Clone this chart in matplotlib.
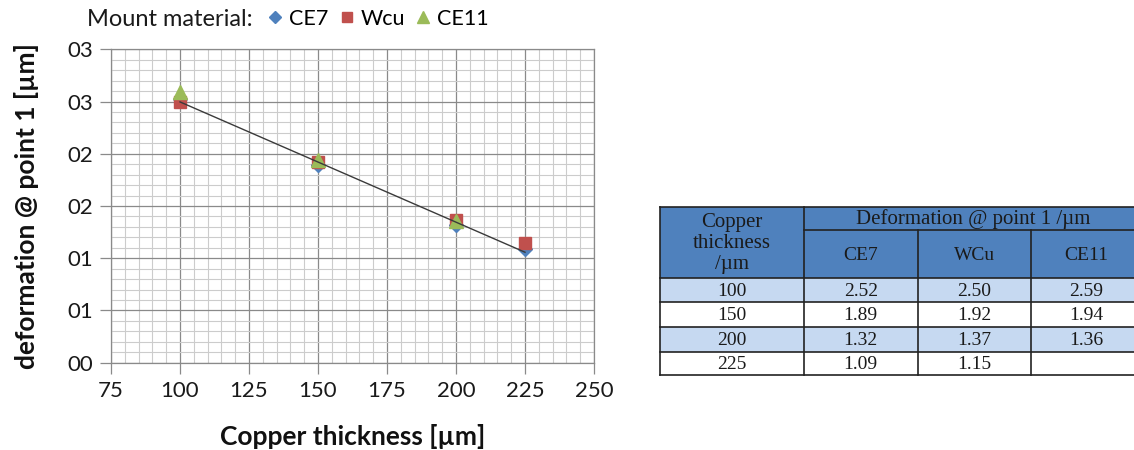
import math
import numpy as np
import matplotlib
matplotlib.use("Agg")
import matplotlib.pyplot as plt
from matplotlib.ticker import MultipleLocator, FuncFormatter
from matplotlib.patches import Rectangle
from matplotlib.lines import Line2D

# ---- data -------------------------------------------------------------
thickness = [100, 150, 200, 225]
ce7 = [2.52, 1.89, 1.32, 1.09]
wcu = [2.50, 1.92, 1.37, 1.15]
ce11 = [2.59, 1.94, 1.36, None]

series_names = ["CE7", "Wcu", "CE11"]
table_cols = ["CE7", "WCu", "CE11"]
x_ticks = [75, 100, 125, 150, 175, 200, 225, 250]

# ---- style ------------------------------------------------------------
SANS = ["Lato", "DejaVu Sans"]
SERIF = ["Liberation Serif", "DejaVu Serif"]
BLUE, RED, GREEN = "#4F81BD", "#C0504D", "#9BBB59"
W, H = 1134, 450

fig = plt.figure(figsize=(W / 100, H / 100), dpi=100)
fig.patch.set_facecolor("white")

ax = fig.add_axes([111 / W, 1 - 362.7 / H, 483 / W, 313.4 / H])
ax.set_xlim(75, 250)
ax.set_ylim(0, 3)
ax.xaxis.set_major_locator(MultipleLocator(25))
ax.xaxis.set_minor_locator(MultipleLocator(5))
ax.yaxis.set_major_locator(MultipleLocator(0.5))
ax.yaxis.set_minor_locator(MultipleLocator(0.1))


def two_digit(v, _pos):
    return f"{int(math.floor(v + 0.5)):02d}"


ax.yaxis.set_major_formatter(FuncFormatter(two_digit))
ax.set_xticks(x_ticks)
ax.set_xticklabels([str(t) for t in x_ticks])

ax.grid(which="minor", color="#cccccc", linewidth=0.8)
ax.grid(which="major", color="#8a8a8a", linewidth=0.9)
ax.set_axisbelow(True)
for s in ax.spines.values():
    s.set_color("#8a8a8a")
    s.set_linewidth(0.9)
ax.tick_params(which="major", direction="out", length=8, width=0.9,
               color="#8a8a8a", labelsize=16, pad=5)
ax.tick_params(which="minor", length=0)
for lbl in ax.get_xticklabels() + ax.get_yticklabels():
    lbl.set_family(SANS)
    lbl.set_color("#1a1a1a")

x_arr = np.array(thickness, dtype=float)
ax.plot(x_arr, ce7, linestyle="none", marker="D", markersize=7,
        color=BLUE, label=series_names[0], zorder=3)
ax.plot(x_arr, wcu, linestyle="none", marker="s", markersize=8.5,
        color=RED, label=series_names[1], zorder=4)
ce11_y = np.array([np.nan if v is None else v for v in ce11], dtype=float)
ax.plot(x_arr, ce11_y, linestyle="none", marker="^", markersize=9.5,
        color=GREEN, label=series_names[2], zorder=5)

# linear trend of the CE7 series over its own x range
k, b = np.polyfit(x_arr, ce7, 1)
xt = np.array([x_arr.min(), x_arr.max()])
ax.plot(xt, k * xt + b, color="#3a3a3a", linewidth=1.0, zorder=6)

ax.set_xlabel("Copper thickness [µm]", family=SANS, fontsize=19,
              fontweight="bold", labelpad=17, color="#111111")
ax.set_ylabel("deformation @ point 1 [µm]", family=SANS, fontsize=19,
              fontweight="bold", labelpad=20, color="#111111")

# legend row above the plot
fig.text(87 / W, 1 - 19 / H, "Mount material:", family=SANS, fontsize=17,
         va="center", ha="left", color="#1a1a1a")
handles = [
    Line2D([], [], linestyle="none", marker="D", markersize=6.5, color=BLUE),
    Line2D([], [], linestyle="none", marker="s", markersize=7.5, color=RED),
    Line2D([], [], linestyle="none", marker="^", markersize=8.5, color=GREEN),
]
fig.legend(handles, series_names, loc="center left",
           bbox_to_anchor=(268.5 / W, 1 - 19 / H), ncol=3, frameon=False,
           prop={"family": SANS, "size": 15.5}, handlelength=0.6,
           handletextpad=0.35, columnspacing=0.55, borderaxespad=0,
           borderpad=0)

# ---- data table -------------------------------------------------------
tab = fig.add_axes([0, 0, 1, 1])
tab.set_xlim(0, W)
tab.set_ylim(H, 0)
tab.axis("off")

HEAD = "#4F81BD"
LIGHT = "#C6D9F1"
col_x = [659.5, 804, 917.5, 1031, 1142]
top, mid, head_bottom = 206.7, 230, 278.3
row_y = [278.3, 302.3, 327.3, 351.7, 375]
lw = 1.2
edge = "#222222"

tab.add_patch(Rectangle((col_x[0], top), col_x[-1] - col_x[0],
                        head_bottom - top, facecolor=HEAD, edgecolor="none"))
for i in range(len(thickness)):
    fc = LIGHT if i % 2 == 0 else "white"
    tab.add_patch(Rectangle((col_x[0], row_y[i]), col_x[-1] - col_x[0],
                            row_y[i + 1] - row_y[i], facecolor=fc,
                            edgecolor="none"))

# grid lines of the table
for y in [top] + row_y:
    tab.plot([col_x[0], col_x[-1]], [y, y], color=edge, lw=lw)
tab.plot([col_x[1], col_x[-1]], [mid, mid], color=edge, lw=lw)
tab.plot([col_x[0], col_x[0]], [top, row_y[-1]], color=edge, lw=lw)
tab.plot([col_x[1], col_x[1]], [top, row_y[-1]], color=edge, lw=lw)
for cx in col_x[2:4]:
    tab.plot([cx, cx], [mid, row_y[-1]], color=edge, lw=lw)

tfont = {"family": SERIF, "fontsize": 14, "color": "#1a1a1a"}
hfont = {"family": SERIF, "fontsize": 15, "color": "#1a1a1a"}
tab.text((col_x[0] + col_x[1]) / 2, (top + head_bottom) / 2 + 1,
         "Copper\nthickness\n/µm", ha="center", va="center",
         linespacing=1.15, **hfont)
tab.text((col_x[1] + col_x[-1]) / 2, (top + mid) / 2 + 1,
         "Deformation @ point 1 /µm", ha="center", va="center", **hfont)
for j, name in enumerate(table_cols):
    tab.text((col_x[j + 1] + col_x[j + 2]) / 2, (mid + head_bottom) / 2 + 1,
             name, ha="center", va="center", **tfont)

for i, t in enumerate(thickness):
    yc = (row_y[i] + row_y[i + 1]) / 2 + 1
    tab.text((col_x[0] + col_x[1]) / 2, yc, str(t), ha="center",
             va="center", **tfont)
    for j, vals in enumerate([ce7, wcu, ce11]):
        if vals[i] is None:
            continue
        tab.text((col_x[j + 1] + col_x[j + 2]) / 2, yc, f"{vals[i]:.2f}",
                 ha="center", va="center", **tfont)

fig.savefig("out.png", dpi=100)
